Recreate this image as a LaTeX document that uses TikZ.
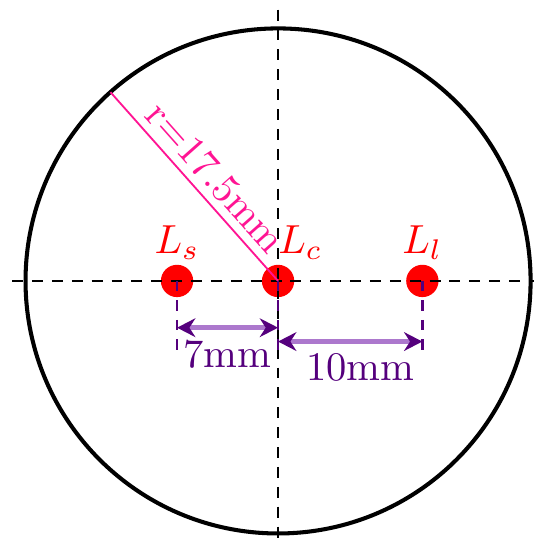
\documentclass[tikz,border=0pt]{standalone}
\usepackage{amsmath}
\usepackage{xcolor}
\usetikzlibrary{calc, positioning, arrows.meta}
\definecolor{radpink}{RGB}{255,20,147}
\definecolor{dimpurple}{RGB}{85,0,125}
\definecolor{dimline}{RGB}{172,120,205}
\tikzset{
    lenses/.style={
        x=1.25mm, y=1.25mm,
        >=Stealth,
        rim/.style={line width=1pt, black},
        axis_line/.style={line width=0.6pt, black, dash pattern=on 2.7pt off 2.2pt},
        radius_line/.style={radpink, line width=0.45pt},
        lamp/.style={circle, fill=red, inner sep=0pt, minimum size=2.8mm},
        lamp_label/.style={red, inner sep=1pt},
        ext_line/.style={dimpurple, line width=0.6pt, dash pattern=on 2.6pt off 2.2pt},
        dim_arrow/.style={dimline, line width=1.1pt, {Stealth[length=4.5pt, width=4.6pt, color=dimpurple]}-{Stealth[length=4.5pt, width=4.6pt, color=dimpurple]}},
        dim_text/.style={dimpurple, below, inner sep=2.5pt}
    }
}

\begin{document}
\begin{tikzpicture}[lenses]
        \useasboundingbox (-19.27,-18.23) rectangle (17.67,19.47);

        % Lamps on the axis
        \node[lamp, label={[lamp_label]above:$L_s$}] (Ls) at (-7,0) {};
        \node[lamp, label={[lamp_label, xshift=5.5pt]above:$L_c$}] (Lc) at (0,0) {};
        \node[lamp, label={[lamp_label]above:$L_l$}] (Ll) at (10,0) {};

        % Axes
        \coordinate (AxW) at (-18.43,0);
        \coordinate (AxE) at (18.5,0);
        \coordinate (AxN) at (0,18.8);
        \coordinate (AxS) at (0,-18.8);
        \draw[axis_line] (AxW) -- (AxE);
        \draw[axis_line] (AxN) -- (AxS);

        % Outer circle and radius
        \draw[rim] (Lc.center) circle[radius=17.5];
        \coordinate (Rim) at (131.6:17.5);
        \draw[radius_line] (Rim) -- (Lc.center) node[pos=0.53, above, sloped, inner sep=1.8pt] {r=17.5mm};

        % Extension lines
        \coordinate (LsLow) at (-7,-5);
        \coordinate (LcLow) at (0,-5);
        \coordinate (LlLow) at (10,-5);
        \draw[ext_line] (Ls.center) -- (LsLow);
        \draw[ext_line] (Lc.center) -- (LcLow);
        \draw[ext_line] (Ll.center) -- (LlLow);

        % Distances
        \coordinate (SA) at (-7,-3.24);
        \coordinate (SB) at (0,-3.24);
        \coordinate (LA) at (0,-4.2);
        \coordinate (LB) at (10,-4.2);
        \draw[dim_arrow] (SA) -- (SB) node[midway, dim_text] {7mm};
        \draw[dim_arrow] (LA) -- (LB) node[midway, dim_text, xshift=2.5pt] {10mm};

    \end{tikzpicture}
\end{document}
